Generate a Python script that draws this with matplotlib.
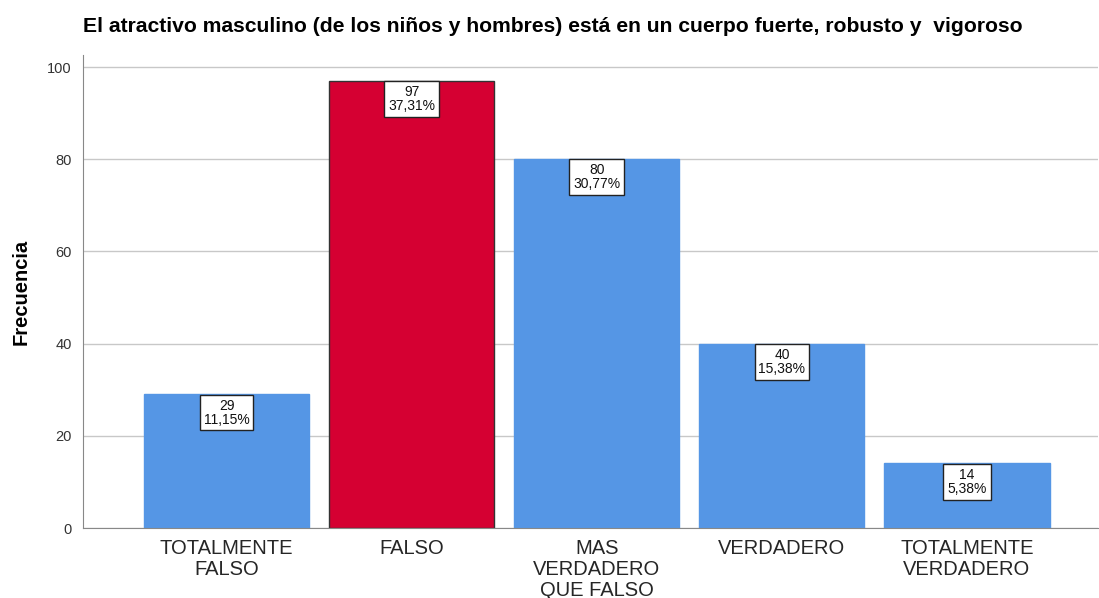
import numpy as np
import matplotlib
matplotlib.use("Agg")
import matplotlib.pyplot as plt

plt.rcParams['font.family'] = ['Liberation Sans', 'DejaVu Sans']

categories = ["TOTALMENTE\nFALSO", "FALSO", "MAS\nVERDADERO\nQUE FALSO", "VERDADERO", "TOTALMENTE\nVERDADERO"]
counts = [29, 97, 80, 40, 14]
percents = ["11,15%", "37,31%", "30,77%", "15,38%", "5,38%"]
highlight = 1

BLUE, RED, GRID, AXC = '#5596E5', '#D50032', '#C8C8C8', '#888888'

fig = plt.figure(figsize=(10.99, 5.98), dpi=100)
ax = fig.add_axes([0.0755, 0.117, 0.924, 0.791])

x = np.arange(len(categories))
colors = [RED if i == highlight else BLUE for i in x]
edges = ['#333333' if i == highlight else BLUE for i in x]
ax.bar(x, counts, 0.892, color=colors, edgecolor=edges, linewidth=1.0, zorder=2)

for xi, c, p in zip(x, counts, percents):
    ax.annotate(f"{c}\n{p}", xy=(xi, c), xytext=(0, -3), textcoords="offset points",
                ha="center", va="top", fontsize=10, linespacing=1.0, zorder=4, color='#111111',
                bbox=dict(boxstyle="square,pad=0.28", fc="white", ec="#222222", lw=1.0))

ax.set_xlim(-0.776, 4.71)
ax.set_ylim(0, 102.6)
ax.set_yticks([0, 20, 40, 60, 80, 100])
ax.yaxis.grid(True, color=GRID, linewidth=1.0, zorder=0)
ax.set_axisbelow(True)
ax.set_xticks(x)
ax.set_xticklabels(categories, fontsize=14.5, color='#262626', linespacing=1.12)
ax.tick_params(axis='x', length=0, pad=8)
ax.tick_params(axis='y', length=0, pad=8, labelsize=10.5, labelcolor='#333333')
for s in ["top", "right"]:
    ax.spines[s].set_visible(False)
for s in ["left", "bottom"]:
    ax.spines[s].set_color(AXC)

ax.set_ylabel("Frecuencia", fontsize=14.5, fontweight="bold", labelpad=12)
fig.text(0.0755, 0.955, "El atractivo masculino (de los niños y hombres) está en un cuerpo fuerte, robusto y  vigoroso",
         fontsize=15.2, fontweight="bold", ha="left", va="center")

fig.savefig("out.png", dpi=100)
